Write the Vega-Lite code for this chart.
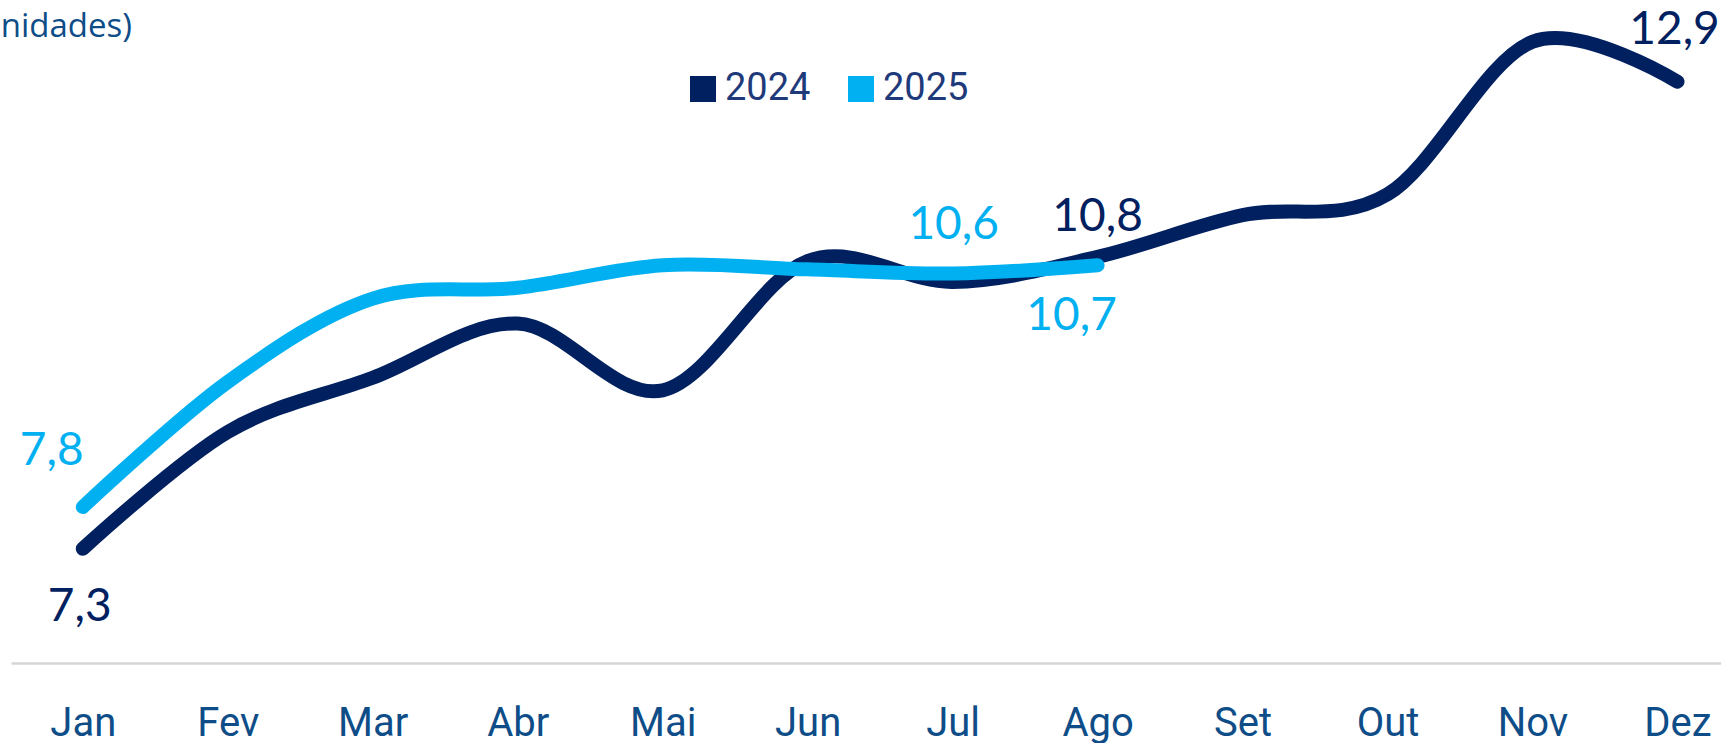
{
  "$schema": "https://vega.github.io/schema/vega-lite/v6.json",
  "autosize": {"type": "none"},
  "padding": {"left": 11, "top": 0, "right": 0, "bottom": 80},
  "width": 1710,
  "height": 663,
  "background": "white",
  "title": {
    "text": "(em mil unidades)",
    "anchor": "start",
    "align": "right",
    "frame": "group",
    "orient": "top",
    "dx": 121,
    "offset": -70,
    "baseline": "alphabetic",
    "font": "Open Sans",
    "fontSize": 33,
    "fontWeight": "normal",
    "color": "#0E4D87"
  },
  "config": {
    "view": {"stroke": null},
    "locale": {"number": {"decimal": ",", "thousands": ".", "grouping": [3], "currency": ["R$", ""]}}
  },
  "data": {
    "values": [
      {"mes": 1, "ano": "2024", "v": 7.3},
      {"mes": 2, "ano": "2024", "v": 8.7},
      {"mes": 3, "ano": "2024", "v": 9.35},
      {"mes": 4, "ano": "2024", "v": 10.0},
      {"mes": 5, "ano": "2024", "v": 9.2},
      {"mes": 6, "ano": "2024", "v": 10.75},
      {"mes": 7, "ano": "2024", "v": 10.5},
      {"mes": 8, "ano": "2024", "v": 10.8},
      {"mes": 9, "ano": "2024", "v": 11.3},
      {"mes": 10, "ano": "2024", "v": 11.55},
      {"mes": 11, "ano": "2024", "v": 13.38},
      {"mes": 12, "ano": "2024", "v": 12.9},
      {"mes": 1, "ano": "2025", "v": 7.8},
      {"mes": 2, "ano": "2025", "v": 9.3},
      {"mes": 3, "ano": "2025", "v": 10.3},
      {"mes": 4, "ano": "2025", "v": 10.43},
      {"mes": 5, "ano": "2025", "v": 10.7},
      {"mes": 6, "ano": "2025", "v": 10.65},
      {"mes": 7, "ano": "2025", "v": 10.6},
      {"mes": 8, "ano": "2025", "v": 10.7}
    ]
  },
  "encoding": {
    "x": {
      "field": "mes",
      "type": "quantitative",
      "scale": {"domain": [0.505, 12.3], "nice": false, "zero": false},
      "axis": {
        "title": null,
        "values": [1, 2, 3, 4, 5, 6, 7, 8, 9, 10, 11, 12],
        "labelExpr": "['Jan','Fev','Mar','Abr','Mai','Jun','Jul','Ago','Set','Out','Nov','Dez'][datum.value - 1]",
        "grid": false,
        "ticks": false,
        "tickSize": 0,
        "domain": true,
        "domainColor": "#D6D6D6",
        "domainWidth": 2.5,
        "labelFont": "Roboto",
        "labelFontSize": 40,
        "labelColor": "#0E4D87",
        "labelBaseline": "alphabetic",
        "labelPadding": 72,
        "labelFlush": false,
        "labelOverlap": false,
        "labelBound": false
      }
    },
    "y": {
      "field": "v",
      "type": "quantitative",
      "scale": {"domain": [5.93, 13.88], "nice": false, "zero": false},
      "axis": null
    }
  },
  "layer": [
    {
      "mark": {"type": "line", "interpolate": "cardinal", "strokeWidth": 14, "strokeCap": "round", "strokeJoin": "round"},
      "encoding": {
        "color": {
          "field": "ano",
          "type": "nominal",
          "scale": {"domain": ["2024", "2025"], "range": ["#002060", "#00B0F0"]},
          "legend": {
            "orient": "none",
            "legendX": 673,
            "legendY": 70,
            "direction": "horizontal",
            "title": null,
            "padding": 0,
            "symbolType": "square",
            "symbolSize": 676,
            "symbolStrokeWidth": 0,
            "labelFont": "Roboto",
            "labelFontSize": 38,
            "labelColor": "#1F3A7A",
            "labelOffset": 3,
            "columnPadding": 31,
            "encode": {
              "symbols": {
                "update": {
                  "fill": {"scale": "color", "field": "value"},
                  "stroke": {"value": "transparent"},
                  "opacity": {"value": 1}
                }
              }
            }
          }
        }
      }
    },
    {
      "transform": [{"filter": "datum.ano == '2025' && datum.mes == 1"}],
      "mark": {"type": "text", "font": "Lato", "fontSize": 46, "dx": -31, "dy": -56, "align": "center", "baseline": "middle", "color": "#00B0F0"},
      "encoding": {"text": {"field": "v", "type": "quantitative", "format": ".1f"}}
    },
    {
      "transform": [{"filter": "datum.ano == '2024' && datum.mes == 1"}],
      "mark": {"type": "text", "font": "Lato", "fontSize": 46, "dx": -3, "dy": 58, "align": "center", "baseline": "middle", "color": "#002060"},
      "encoding": {"text": {"field": "v", "type": "quantitative", "format": ".1f"}}
    },
    {
      "transform": [{"filter": "datum.ano == '2025' && datum.mes == 7"}],
      "mark": {"type": "text", "font": "Lato", "fontSize": 46, "dx": 1, "dy": -49, "align": "center", "baseline": "middle", "color": "#00B0F0"},
      "encoding": {"text": {"field": "v", "type": "quantitative", "format": ".1f"}}
    },
    {
      "transform": [{"filter": "datum.ano == '2024' && datum.mes == 8"}],
      "mark": {"type": "text", "font": "Lato", "fontSize": 46, "dx": 0, "dy": -40, "align": "center", "baseline": "middle", "color": "#002060"},
      "encoding": {"text": {"field": "v", "type": "quantitative", "format": ".1f"}}
    },
    {
      "transform": [{"filter": "datum.ano == '2025' && datum.mes == 8"}],
      "mark": {"type": "text", "font": "Lato", "fontSize": 46, "dx": -26, "dy": 51, "align": "center", "baseline": "middle", "color": "#00B0F0"},
      "encoding": {"text": {"field": "v", "type": "quantitative", "format": ".1f"}}
    },
    {
      "transform": [{"filter": "datum.ano == '2024' && datum.mes == 12"}],
      "mark": {"type": "text", "font": "Lato", "fontSize": 46, "dx": -3, "dy": -52, "align": "center", "baseline": "middle", "color": "#002060"},
      "encoding": {"text": {"field": "v", "type": "quantitative", "format": ".1f"}}
    }
  ]
}
